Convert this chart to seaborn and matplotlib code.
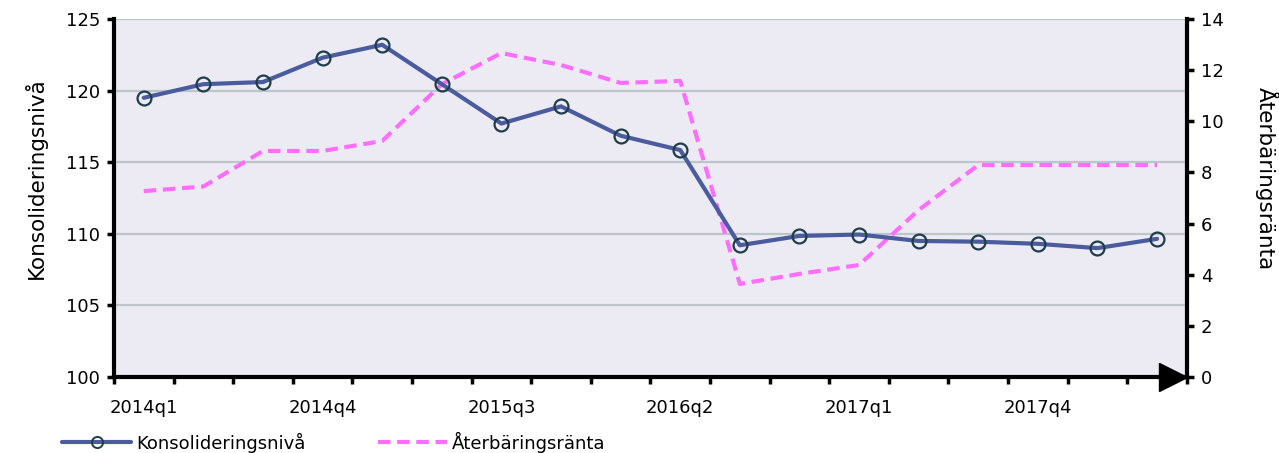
import numpy as np
import pandas as pd
import matplotlib
matplotlib.use("Agg")
import matplotlib.pyplot as plt
from matplotlib.ticker import FixedLocator
from matplotlib.lines import Line2D
import seaborn as sns

quarters = ["2014q1", "2014q2", "2014q3", "2014q4", "2015q1", "2015q2", "2015q3", "2015q4", "2016q1",
            "2016q2", "2016q3", "2016q4", "2017q1", "2017q2", "2017q3", "2017q4", "2018q1", "2018q2"]
konsolidering = [119.5, 120.45, 120.6, 122.3, 123.2, 120.45, 117.7, 118.9, 116.85,
                 115.85, 109.2, 109.85, 109.95, 109.5, 109.45, 109.3, 109.0, 109.65]
aterbaring = [7.27, 7.45, 8.84, 8.84, 9.23, 11.45, 12.67, 12.2, 11.5,
              11.58, 3.64, 4.03, 4.38, 6.53, 8.29, 8.29, 8.29, 8.29]
shown_labels = ["2014q1", "2014q4", "2015q3", "2016q2", "2017q1", "2017q4"]

df = pd.DataFrame({"pos": np.arange(len(quarters)), "kvartal": quarters,
                   "konsolidering": konsolidering, "aterbaring": aterbaring})

sns.set_style("white", {"axes.facecolor": "#ECEBF4"})
plt.rcParams["font.family"] = ["DejaVu Sans"]
plt.rcParams["text.color"] = "black"
plt.rcParams["axes.labelcolor"] = "black"
plt.rcParams["xtick.color"] = "black"
plt.rcParams["ytick.color"] = "black"

blue = "#4B5C9E"
pink = "#FF6EFF"
grid = "#BCC6CA"

fig = plt.figure(figsize=(12.79, 4.53), dpi=100)
ax = fig.add_axes([0.0891, 0.1678, 0.8389, 0.7902])
ax2 = ax.twinx()

sns.lineplot(data=df, x="pos", y="aterbaring", ax=ax2, color=pink, linewidth=3,
             legend=False)
ax2.lines[0].set_dashes((3, 1.6))
sns.lineplot(data=df, x="pos", y="konsolidering", ax=ax, color=blue, linewidth=3,
             marker="o", markersize=10, markerfacecolor="none", markeredgecolor="#1E3D4A",
             markeredgewidth=1.6, legend=False)

# blue line in front of pink one, grid behind both
ax.set_zorder(ax2.get_zorder() + 1)
ax.patch.set_visible(False)
ax2.patch.set_visible(True)
ax2.patch.set_facecolor("#ECEBF4")

ax.set_xlim(-0.5, len(quarters) - 0.5)
ax.set_ylim(100, 125)
ax2.set_ylim(0, 14)
ax.set_yticks(np.arange(100, 126, 5))
ax2.set_yticks(np.arange(0, 15, 2))

label_pos = [quarters.index(q) for q in shown_labels]
ax.set_xticks(label_pos)
ax.set_xticklabels(shown_labels)
ax.xaxis.set_minor_locator(FixedLocator(np.arange(-0.5, len(quarters), 1)))
ax.tick_params(axis="x", which="major", bottom=True, length=0, pad=16, labelsize=13)
ax.tick_params(axis="x", which="minor", bottom=True, length=5, width=2.5, color="black",
               direction="out")
ax.tick_params(axis="y", left=True, length=5, width=2.5, color="black", direction="out",
               labelsize=13, pad=5)
ax2.tick_params(axis="y", right=True, length=5, width=2.5, color="black", direction="out",
                labelsize=13, pad=5)

# gridlines drawn on the back axes so the pink line sits on top of them
for y in [105, 110, 115, 120, 125]:
    ax2.axhline((y - 100) / 25 * 14, color=grid, linewidth=1.6, zorder=0)

for a in (ax, ax2):
    for side in ["top", "left", "bottom", "right"]:
        a.spines[side].set_visible(False)
ax.spines["left"].set_visible(True)
ax.spines["left"].set_linewidth(3)
ax.spines["left"].set_color("black")
ax.spines["bottom"].set_visible(True)
ax.spines["bottom"].set_linewidth(3)
ax.spines["bottom"].set_color("black")
ax2.spines["right"].set_visible(True)
ax2.spines["right"].set_linewidth(3)
ax2.spines["right"].set_color("black")

# arrow head at the end of the x axis
ax.plot(0.987, 0, marker=">", markersize=20, color="black", transform=ax.transAxes,
        clip_on=False, zorder=10)

ax.set_xlabel("")
ax.set_ylabel("Konsolideringsnivå", fontsize=15.5, ha="center", va="center")
ax.yaxis.set_label_coords(-0.073, 0.555)
ax2.set_ylabel("Återbäringsränta", fontsize=15.5, rotation=270, ha="center", va="center")
ax2.yaxis.set_label_coords(1.074, 0.555)

handles = [
    Line2D([], [], color=blue, linewidth=3, marker="o", markersize=8, markerfacecolor="none",
           markeredgecolor="#1E3D4A", markeredgewidth=1.4),
    Line2D([], [], color=pink, linewidth=3, dashes=(3, 1.6)),
]
fig.legend(handles, ["Konsolideringsnivå", "Återbäringsränta"], loc="lower left",
           bbox_to_anchor=(0.036, -0.035), ncol=2, frameon=False, fontsize=13,
           handlelength=3.8, columnspacing=4.0, handletextpad=0.3)

fig.savefig("out.png", dpi=100)
